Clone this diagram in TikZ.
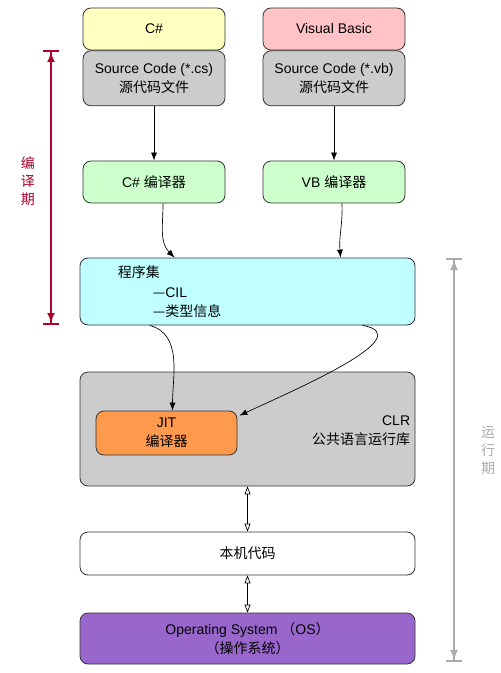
\documentclass[tikz,border=0pt]{standalone}
\usepackage{fontspec}
\setmainfont{Liberation Sans}
\newfontfamily\cjk{Noto Sans CJK SC}
\usetikzlibrary{arrows.meta,calc,positioning}
\definecolor{csyellow}{HTML}{FFFFC0}
\definecolor{vbpink}{HTML}{FFC2C6}
\definecolor{srcgray}{HTML}{CCCCCC}
\definecolor{compgreen}{HTML}{CCFFCC}
\definecolor{asmcyan}{HTML}{C0FFFF}
\definecolor{jitorange}{HTML}{FF9A4D}
\definecolor{ospurple}{HTML}{9966CC}
\definecolor{compred}{HTML}{B0002C}
\definecolor{rungray}{HTML}{AAAAAA}
\tikzset{%
	box/.style    = {draw=black!80, rounded corners=6pt, line width=0.6pt, minimum width=106.5pt, align=center},
	lang/.style   = {box, minimum height=31.5pt},
	src/.style    = {box, fill=srcgray, minimum height=41.25pt},
	comp/.style   = {box, fill=compgreen, minimum height=31.5pt},
	wide/.style   = {box, minimum width=251.25pt},
	txt/.style    = {inner sep=0pt},
	arrow/.style  = {line width=0.5pt, -{Latex[length=6pt,width=4.5pt]}},
	dbl/.style    = {line width=0.5pt, {Triangle[open,length=6pt,width=4.5pt]}-{Triangle[open,length=6pt,width=4.5pt]}},
	phase/.style  = {line width=1.5pt, {Bar[width=12pt]Latex[length=7.5pt,width=6pt]}-{Latex[length=7.5pt,width=6pt]Bar[width=12pt]}},
	vlabel/.style = {align=center, font=\fontsize{10.5}{13.5}\selectfont\cjk},
}
\begin{document}
\begin{tikzpicture}[x=0.75pt, y=-0.75pt, font=\fontsize{10.5}{14}\selectfont]
	\useasboundingbox (0,0) rectangle (500,673);
	% source languages
	\node [lang, fill=csyellow] (cs) at (154,29) {C\#};
	\node [src] (cssrc) [below=0pt of cs] {Source Code (*.cs)\\{\cjk 源代码文件}};
	\node [lang, fill=vbpink] (vb) at (334,29) {Visual Basic};
	\node [src] (vbsrc) [below=0pt of vb] {Source Code (*.vb)\\{\cjk 源代码文件}};
	% compilers
	\node [comp] (cscomp) at (154,182) {C\# {\cjk 编译器}};
	\node [comp] (vbcomp) at (334,182) {VB {\cjk 编译器}};
	% assembly
	\node [wide, fill=asmcyan, minimum height=50.25pt] (asm) at (247.5,291.5) {};
	\node [txt, anchor=west] (asmname) at ($(asm.north west)+(38,15)$) {\cjk 程序集};
	\node [txt, anchor=west] (asmcil) at ($(asm.north west)+(73,35)$) {{\cjk —}CIL};
	\node [txt, anchor=west] (asmtype) at ($(asm.north west)+(73,54)$) {\cjk —类型信息};
	% runtime
	\node [wide, fill=srcgray, minimum height=85.5pt] (clr) at (247.5,429) {};
	\node [box, fill=jitorange, minimum width=105.75pt, minimum height=33pt] (jit) at (166.5,433) {JIT\\{\cjk 编译器}};
	\node [txt, anchor=east, align=right] (clrname) at ($(clr.east)+(-5,2)$) {CLR\\{\cjk 公共语言运行库}};
	\node [wide, fill=white, minimum height=32.25pt] (native) at (247.5,553.5) {\cjk 本机代码};
	\node [wide, fill=ospurple, minimum height=38.25pt] (os) at (247.5,638.5) {Operating System {\cjk （}OS{\cjk ）}\\{\cjk （操作系统）}};
	% phases
	\coordinate (ctop) at (51,50);
	\coordinate (cbot) at (51,325);
	\coordinate (rtop) at (454,258);
	\coordinate (rbot) at (454,662);
	\node [vlabel, text=compred] (clabel) at (28,181) {编\\译\\期};
	\node [vlabel, text=rungray] (rlabel) at (488,451) {运\\行\\期};

	\draw[arrow] (cssrc) -- (cscomp);
	\draw[arrow] (vbsrc) -- (vbcomp);
	\draw[arrow] ($(cscomp.south)+(9,0)$) to[out=-90,in=135] ($(asm.north west)+(95,0)$);
	\draw[arrow] ($(vbcomp.south)+(8,0)$) to[out=-88,in=95] ($(asm.north west)+(261,0)$);
	\draw[arrow] ($(asm.south west)+(70,0)$) to[out=-15,in=90] ($(jit.north)+(6,0)$);
	\draw[arrow] ($(asm.south west)+(283,0)$) to[out=-10,in=25] ($(jit.north east)+(2,5)$);
	\draw[dbl] (clr) -- (native);
	\draw[dbl] (native) -- (os);
	\draw[phase, draw=compred] (ctop) -- (cbot);
	\draw[phase, draw=rungray] (rtop) -- (rbot);
\end{tikzpicture}
\end{document}
